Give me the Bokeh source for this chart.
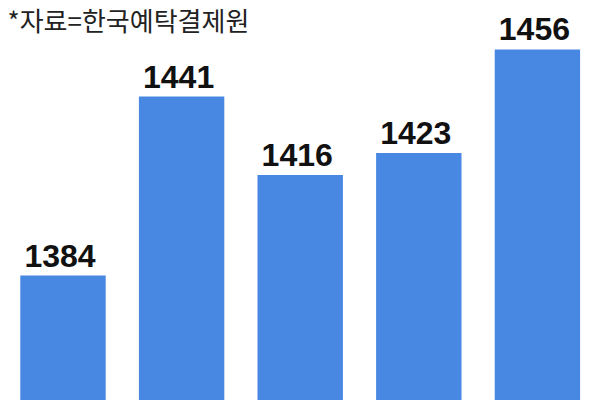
from bokeh.plotting import figure
from bokeh.models import ColumnDataSource, Label, Range1d
from bokeh.core.properties import value
from bokeh.embed import file_html
from bokeh.resources import INLINE

labels = ["1", "2", "3", "4", "5"]
values = [1384, 1441, 1416, 1423, 1456]
source_note = "*자료=한국예탁결제원"

xs = list(range(len(values)))
src = ColumnDataSource(data=dict(x=xs, top=values, txt=[str(v) for v in values]))

p = figure(width=600, height=400, output_backend="svg", toolbar_location=None,
           x_range=Range1d(-0.527, 4.532), y_range=Range1d(1344.18, 1471.61),
           min_border=0, outline_line_color=None)
p.axis.visible = False
p.grid.visible = False
p.background_fill_color = "white"
p.border_fill_color = "white"

p.vbar(x="x", top="top", bottom=1300, width=0.72, source=src,
       fill_color="#4887E2", line_color=None)

p.text(x="x", y="top", text="txt", source=src, text_align="center",
       text_baseline="bottom", y_offset=-9, x_offset=-3,
       text_font=value("Liberation Sans"), text_font_style="bold",
       text_font_size="32px", text_color="#111111")

p.add_layout(Label(x=7, y=381, x_units="screen", y_units="screen", text=source_note,
                   text_font="Noto Sans CJK KR", text_font_size="26px",
                   text_color="#222222", text_baseline="alphabetic"))

open("out.html", "w").write(file_html(p, INLINE))
